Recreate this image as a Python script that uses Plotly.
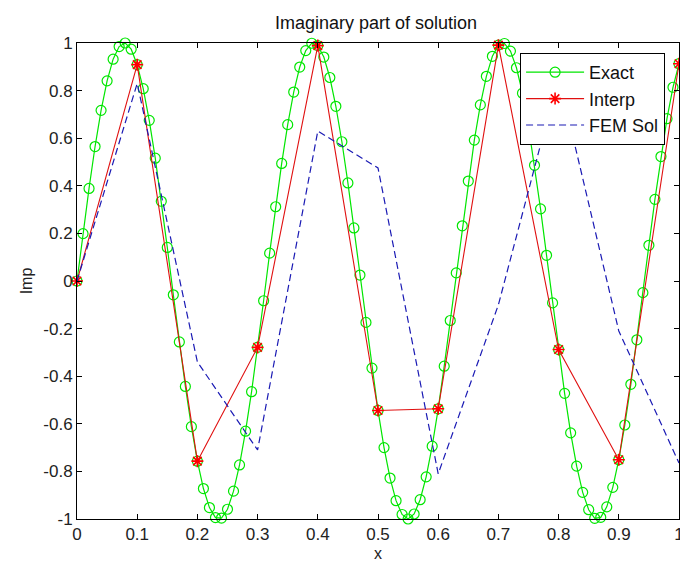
import plotly.graph_objects as go

# ---- data ----
x_exact = [0.00, 0.01, 0.02, 0.03, 0.04, 0.05, 0.06, 0.07, 0.08, 0.09,
           0.10, 0.11, 0.12, 0.13, 0.14, 0.15, 0.16, 0.17, 0.18, 0.19,
           0.20, 0.21, 0.22, 0.23, 0.24, 0.25, 0.26, 0.27, 0.28, 0.29,
           0.30, 0.31, 0.32, 0.33, 0.34, 0.35, 0.36, 0.37, 0.38, 0.39,
           0.40, 0.41, 0.42, 0.43, 0.44, 0.45, 0.46, 0.47, 0.48, 0.49,
           0.50, 0.51, 0.52, 0.53, 0.54, 0.55, 0.56, 0.57, 0.58, 0.59,
           0.60, 0.61, 0.62, 0.63, 0.64, 0.65, 0.66, 0.67, 0.68, 0.69,
           0.70, 0.71, 0.72, 0.73, 0.74, 0.75, 0.76, 0.77, 0.78, 0.79,
           0.80, 0.81, 0.82, 0.83, 0.84, 0.85, 0.86, 0.87, 0.88, 0.89,
           0.90, 0.91, 0.92, 0.93, 0.94, 0.95, 0.96, 0.97, 0.98, 0.99,
           1.00]
y_exact = [0.000, 0.199, 0.389, 0.565, 0.717, 0.841, 0.932, 0.985, 1.000, 0.974,
           0.909, 0.808, 0.675, 0.516, 0.335, 0.141, -0.058, -0.256, -0.443, -0.612,
           -0.757, -0.872, -0.952, -0.994, -0.996, -0.959, -0.883, -0.773, -0.631, -0.465,
           -0.279, -0.083, 0.117, 0.312, 0.494, 0.657, 0.794, 0.899, 0.968, 0.999,
           0.989, 0.941, 0.855, 0.734, 0.585, 0.412, 0.223, 0.025, -0.174, -0.366,
           -0.544, -0.700, -0.828, -0.923, -0.981, -1.000, -0.979, -0.919, -0.823, -0.694,
           -0.537, -0.358, -0.166, 0.034, 0.232, 0.420, 0.592, 0.740, 0.860, 0.944,
           0.991, 0.998, 0.966, 0.896, 0.789, 0.650, 0.486, 0.303, 0.108, -0.092,
           -0.288, -0.472, -0.638, -0.778, -0.888, -0.961, -0.997, -0.993, -0.949, -0.867,
           -0.751, -0.605, -0.434, -0.247, -0.049, 0.150, 0.343, 0.523, 0.682, 0.814,
           0.913]

x_nodes = [0.0, 0.1, 0.2, 0.3, 0.4, 0.5, 0.6, 0.7, 0.8, 0.9, 1.0]
y_interp = [0.000, 0.909, -0.757, -0.279, 0.989, -0.544, -0.537, 0.991, -0.288, -0.751, 0.913]
y_fem = [0.000, 0.83, -0.34, -0.71, 0.63, 0.475, -0.81, -0.10, 0.86, -0.21, -0.765]

x_ticks = [0, 0.1, 0.2, 0.3, 0.4, 0.5, 0.6, 0.7, 0.8, 0.9, 1]
x_ticktext = ["0", "0.1", "0.2", "0.3", "0.4", "0.5", "0.6", "0.7", "0.8", "0.9", "1"]
y_ticks = [-1, -0.8, -0.6, -0.4, -0.2, 0, 0.2, 0.4, 0.6, 0.8, 1]
y_ticktext = ["-1", "-0.8", "-0.6", "-0.4", "-0.2", "0", "0.2", "0.4", "0.6", "0.8", "1"]

FONT = "Liberation Sans, Arial, sans-serif"

fig = go.Figure()
fig.add_trace(go.Scatter(
    x=x_exact, y=y_exact, name="Exact", mode="lines+markers",
    line=dict(color="#00e600", width=1.2),
    marker=dict(symbol="circle-open", size=10, color="#00e600", line=dict(width=1.2)),
    cliponaxis=False,
))
fig.add_trace(go.Scatter(
    x=x_nodes, y=y_interp, name="Interp", mode="lines+markers",
    line=dict(color="#e01010", width=1.1),
    marker=dict(symbol="asterisk-open", size=10, color="#ff0000", line=dict(width=1.6, color="#ff0000")),
    cliponaxis=False,
))
fig.add_trace(go.Scatter(
    x=x_nodes, y=y_fem, name="FEM Sol", mode="lines",
    line=dict(color="#1a1ab4", width=1.2, dash="7px,4px"),
))

axis_common = dict(
    showline=True, linecolor="black", linewidth=1, mirror="ticks",
    ticks="inside", ticklen=5, tickcolor="black", showgrid=False, zeroline=False,
    tickfont=dict(family=FONT, size=17, color="#222"),
    ticklabeloverflow="allow", automargin=False,
)

fig.update_layout(
    width=680, height=566,
    margin=dict(l=77, r=1, t=43, b=47, autoexpand=False),
    paper_bgcolor="white", plot_bgcolor="white",
    title=dict(text="Imaginary part of solution", x=0.553, xanchor="center",
               y=0.960, yanchor="middle", font=dict(family=FONT, size=18, color="#111")),
    xaxis=dict(range=[0, 1], tickvals=x_ticks, ticktext=x_ticktext,
               title=dict(text="x", font=dict(family=FONT, size=16, color="#222"), standoff=4),
               **axis_common),
    yaxis=dict(range=[-1, 1], tickvals=y_ticks, ticktext=y_ticktext,
               title=dict(text="Imp", font=dict(family=FONT, size=16, color="#222"), standoff=6),
               **axis_common),
    legend=dict(x=0.736, y=0.979, xanchor="left", yanchor="top",
                bgcolor="white", bordercolor="black", borderwidth=1,
                font=dict(family=FONT, size=18, color="#111"),
                itemwidth=58),
)

fig.write_html("out.html")
